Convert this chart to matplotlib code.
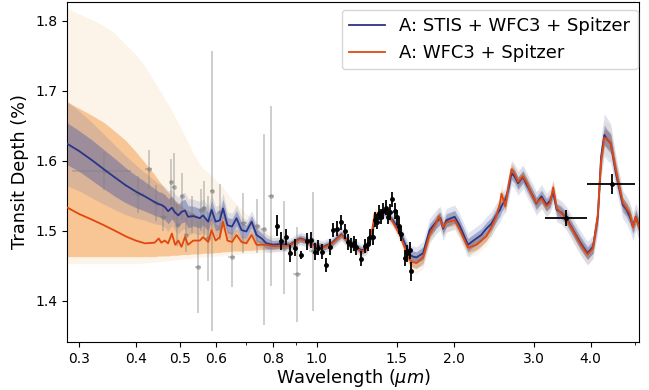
import matplotlib
matplotlib.use('Agg')
import matplotlib.pyplot as plt
import numpy as np
from matplotlib.ticker import FixedLocator, FixedFormatter, LogLocator, NullFormatter

# model grid (micron)
wl = [0.283, 0.300, 0.320, 0.340, 0.360, 0.380, 0.400, 0.419, 0.440, 0.449,
      0.455, 0.463, 0.471, 0.480, 0.488, 0.496, 0.504, 0.513, 0.521, 0.535,
      0.553, 0.562, 0.577, 0.587, 0.599, 0.612, 0.622, 0.636, 0.651, 0.666,
      0.683, 0.700, 0.719, 0.737, 0.756, 0.775, 0.800, 0.829, 0.872, 0.918,
      0.941, 0.981, 1.032, 1.077, 1.114, 1.133, 1.162, 1.202, 1.254, 1.286,
      1.319, 1.341, 1.376, 1.411, 1.435, 1.471, 1.522, 1.561, 1.601, 1.628,
      1.657, 1.713, 1.771, 1.833, 1.855, 1.870, 1.896, 1.928, 2.010, 2.060,
      2.150, 2.200, 2.245, 2.300, 2.360, 2.420, 2.480, 2.530, 2.547, 2.600,
      2.640, 2.680, 2.720, 2.770, 2.840, 2.900, 2.940, 2.990, 3.040, 3.120,
      3.200, 3.260, 3.310, 3.370, 3.450, 3.540, 3.660, 3.790, 3.880, 3.940,
      4.050, 4.150, 4.220, 4.290, 4.360, 4.430, 4.550, 4.710, 4.800, 4.880,
      4.960, 5.030, 5.120]

# retrieval A: STIS + WFC3 + Spitzer (median model, %)
model_all = [1.624, 1.614, 1.601, 1.588, 1.576, 1.565, 1.556, 1.549, 1.541, 1.538,
             1.537, 1.534, 1.528, 1.533, 1.526, 1.522, 1.527, 1.529, 1.520, 1.521,
             1.518, 1.522, 1.513, 1.530, 1.513, 1.515, 1.532, 1.508, 1.506, 1.518,
             1.501, 1.499, 1.513, 1.494, 1.489, 1.482, 1.480, 1.481, 1.480, 1.489,
             1.487, 1.480, 1.477, 1.482, 1.491, 1.495, 1.487, 1.480, 1.472, 1.475,
             1.494, 1.515, 1.522, 1.527, 1.522, 1.515, 1.499, 1.482, 1.466, 1.463,
             1.462, 1.468, 1.501, 1.513, 1.516, 1.518, 1.503, 1.515, 1.520, 1.508,
             1.480, 1.485, 1.489, 1.494, 1.503, 1.510, 1.522, 1.530, 1.535, 1.545,
             1.560, 1.582, 1.578, 1.568, 1.577, 1.565, 1.558, 1.549, 1.539, 1.549,
             1.537, 1.543, 1.555, 1.530, 1.526, 1.518, 1.501, 1.484, 1.474, 1.468,
             1.477, 1.520, 1.606, 1.637, 1.630, 1.625, 1.582, 1.537, 1.530, 1.520,
             1.506, 1.520, 1.506]

all_err1 = [0.030, 0.029, 0.029, 0.028, 0.027, 0.025, 0.023, 0.021, 0.019, 0.018,
            0.018, 0.018, 0.018, 0.016, 0.016, 0.016, 0.016, 0.016, 0.016, 0.014,
            0.014, 0.014, 0.013, 0.013, 0.013, 0.013, 0.013, 0.011, 0.011, 0.011,
            0.011, 0.009, 0.009, 0.009, 0.008, 0.008, 0.006, 0.006, 0.005, 0.005,
            0.005, 0.005, 0.005, 0.005, 0.005, 0.005, 0.005, 0.005, 0.005, 0.005,
            0.005, 0.005, 0.005, 0.005, 0.005, 0.005, 0.006, 0.007, 0.007, 0.008,
            0.008, 0.009, 0.009, 0.009, 0.009, 0.009, 0.009, 0.009, 0.009, 0.009,
            0.009, 0.009, 0.009, 0.009, 0.009, 0.009, 0.009, 0.009, 0.009, 0.009,
            0.009, 0.009, 0.009, 0.009, 0.009, 0.009, 0.009, 0.009, 0.009, 0.009,
            0.009, 0.009, 0.009, 0.009, 0.009, 0.009, 0.009, 0.009, 0.009, 0.009,
            0.009, 0.012, 0.014, 0.014, 0.014, 0.014, 0.013, 0.010, 0.010, 0.010,
            0.010, 0.010, 0.010]

all_err2 = [0.060, 0.057, 0.054, 0.050, 0.046, 0.042, 0.038, 0.034, 0.031, 0.029,
            0.029, 0.029, 0.029, 0.026, 0.026, 0.026, 0.026, 0.026, 0.026, 0.024,
            0.024, 0.024, 0.022, 0.022, 0.022, 0.022, 0.022, 0.019, 0.019, 0.019,
            0.019, 0.016, 0.016, 0.016, 0.013, 0.013, 0.010, 0.010, 0.009, 0.009,
            0.009, 0.009, 0.009, 0.009, 0.009, 0.009, 0.009, 0.009, 0.009, 0.009,
            0.009, 0.009, 0.009, 0.009, 0.009, 0.009, 0.011, 0.013, 0.014, 0.015,
            0.015, 0.017, 0.017, 0.017, 0.017, 0.017, 0.017, 0.017, 0.017, 0.017,
            0.017, 0.017, 0.017, 0.017, 0.017, 0.017, 0.017, 0.017, 0.017, 0.017,
            0.017, 0.017, 0.017, 0.017, 0.017, 0.017, 0.017, 0.017, 0.017, 0.017,
            0.017, 0.017, 0.017, 0.017, 0.017, 0.017, 0.017, 0.017, 0.017, 0.017,
            0.017, 0.022, 0.028, 0.030, 0.030, 0.028, 0.024, 0.020, 0.020, 0.020,
            0.020, 0.020, 0.020]

# retrieval A: WFC3 + Spitzer only
model_ir = [1.533, 1.524, 1.516, 1.508, 1.500, 1.492, 1.486, 1.482, 1.483, 1.489,
            1.483, 1.486, 1.482, 1.496, 1.480, 1.486, 1.477, 1.491, 1.480, 1.486,
            1.486, 1.491, 1.484, 1.501, 1.486, 1.491, 1.513, 1.486, 1.484, 1.494,
            1.484, 1.482, 1.494, 1.480, 1.480, 1.480, 1.478, 1.478, 1.479, 1.488,
            1.486, 1.479, 1.476, 1.481, 1.490, 1.494, 1.487, 1.479, 1.470, 1.474,
            1.495, 1.525, 1.520, 1.530, 1.524, 1.512, 1.495, 1.476, 1.458, 1.455,
            1.454, 1.462, 1.495, 1.512, 1.521, 1.515, 1.505, 1.512, 1.515, 1.502,
            1.476, 1.478, 1.480, 1.486, 1.492, 1.505, 1.520, 1.540, 1.553, 1.535,
            1.565, 1.588, 1.582, 1.570, 1.578, 1.568, 1.558, 1.548, 1.540, 1.546,
            1.535, 1.540, 1.562, 1.532, 1.525, 1.517, 1.500, 1.482, 1.472, 1.466,
            1.475, 1.522, 1.600, 1.633, 1.631, 1.625, 1.586, 1.540, 1.532, 1.525,
            1.505, 1.520, 1.504]

ir_up1 = [0.151, 0.151, 0.149, 0.147, 0.142, 0.137, 0.127, 0.115, 0.097, 0.083,
          0.084, 0.074, 0.073, 0.053, 0.064, 0.054, 0.059, 0.040, 0.049, 0.039,
          0.034, 0.027, 0.032, 0.018, 0.024, 0.016, 0.012, 0.014, 0.013, 0.010,
          0.008, 0.008, 0.008, 0.007, 0.006, 0.005, 0.005, 0.005, 0.004, 0.004,
          0.004, 0.004, 0.004, 0.004, 0.004, 0.004, 0.004, 0.004, 0.004, 0.004,
          0.004, 0.004, 0.004, 0.004, 0.004, 0.004, 0.006, 0.007, 0.008, 0.008,
          0.008, 0.008, 0.007, 0.007, 0.007, 0.007, 0.007, 0.007, 0.007, 0.007,
          0.007, 0.007, 0.007, 0.007, 0.007, 0.007, 0.007, 0.007, 0.007, 0.007,
          0.007, 0.007, 0.007, 0.007, 0.007, 0.007, 0.007, 0.007, 0.007, 0.007,
          0.007, 0.007, 0.007, 0.007, 0.007, 0.007, 0.007, 0.007, 0.007, 0.007,
          0.007, 0.010, 0.012, 0.012, 0.012, 0.012, 0.011, 0.008, 0.008, 0.008,
          0.008, 0.008, 0.008]

ir_dn1 = [0.070, 0.061, 0.053, 0.045, 0.037, 0.029, 0.023, 0.019, 0.020, 0.025,
          0.019, 0.022, 0.018, 0.031, 0.015, 0.021, 0.011, 0.025, 0.014, 0.019,
          0.019, 0.023, 0.016, 0.033, 0.017, 0.022, 0.043, 0.016, 0.013, 0.023,
          0.013, 0.010, 0.022, 0.007, 0.007, 0.006, 0.005, 0.004, 0.004, 0.004,
          0.004, 0.004, 0.004, 0.004, 0.004, 0.004, 0.004, 0.004, 0.004, 0.004,
          0.004, 0.004, 0.004, 0.004, 0.004, 0.004, 0.006, 0.007, 0.008, 0.008,
          0.008, 0.008, 0.007, 0.007, 0.007, 0.007, 0.007, 0.007, 0.007, 0.007,
          0.007, 0.007, 0.007, 0.007, 0.007, 0.007, 0.007, 0.007, 0.007, 0.007,
          0.007, 0.007, 0.007, 0.007, 0.007, 0.007, 0.007, 0.007, 0.007, 0.007,
          0.007, 0.007, 0.007, 0.007, 0.007, 0.007, 0.007, 0.007, 0.007, 0.007,
          0.007, 0.010, 0.012, 0.012, 0.012, 0.012, 0.011, 0.008, 0.008, 0.008,
          0.008, 0.008, 0.008]

ir_up2 = [0.285, 0.286, 0.286, 0.285, 0.282, 0.274, 0.266, 0.253, 0.230, 0.214,
          0.214, 0.203, 0.199, 0.175, 0.182, 0.168, 0.168, 0.144, 0.146, 0.125,
          0.109, 0.098, 0.099, 0.079, 0.086, 0.075, 0.049, 0.067, 0.061, 0.044,
          0.047, 0.042, 0.025, 0.032, 0.026, 0.021, 0.016, 0.013, 0.008, 0.008,
          0.008, 0.008, 0.008, 0.008, 0.008, 0.008, 0.008, 0.008, 0.008, 0.008,
          0.008, 0.008, 0.008, 0.008, 0.008, 0.008, 0.012, 0.014, 0.016, 0.016,
          0.016, 0.016, 0.014, 0.014, 0.014, 0.014, 0.014, 0.014, 0.014, 0.014,
          0.014, 0.014, 0.014, 0.014, 0.014, 0.014, 0.014, 0.014, 0.014, 0.014,
          0.014, 0.014, 0.014, 0.014, 0.014, 0.014, 0.014, 0.014, 0.014, 0.014,
          0.014, 0.014, 0.014, 0.014, 0.014, 0.014, 0.014, 0.014, 0.014, 0.014,
          0.014, 0.020, 0.024, 0.024, 0.024, 0.024, 0.022, 0.016, 0.016, 0.016,
          0.016, 0.016, 0.016]

ir_dn2 = [0.080, 0.071, 0.063, 0.055, 0.047, 0.039, 0.033, 0.028, 0.028, 0.033,
          0.027, 0.029, 0.025, 0.038, 0.022, 0.027, 0.018, 0.031, 0.020, 0.025,
          0.024, 0.029, 0.021, 0.038, 0.022, 0.027, 0.048, 0.021, 0.018, 0.028,
          0.017, 0.014, 0.026, 0.012, 0.011, 0.010, 0.009, 0.008, 0.008, 0.008,
          0.008, 0.008, 0.008, 0.008, 0.008, 0.008, 0.008, 0.008, 0.008, 0.008,
          0.008, 0.008, 0.008, 0.008, 0.008, 0.008, 0.012, 0.014, 0.016, 0.016,
          0.016, 0.016, 0.014, 0.014, 0.014, 0.014, 0.014, 0.014, 0.014, 0.014,
          0.014, 0.014, 0.014, 0.014, 0.014, 0.014, 0.014, 0.014, 0.014, 0.014,
          0.014, 0.014, 0.014, 0.014, 0.014, 0.014, 0.014, 0.014, 0.014, 0.014,
          0.014, 0.014, 0.014, 0.014, 0.014, 0.014, 0.014, 0.014, 0.014, 0.014,
          0.014, 0.020, 0.024, 0.024, 0.024, 0.024, 0.022, 0.016, 0.016, 0.016,
          0.016, 0.016, 0.016]

# STIS data
stis_wl = [0.340, 0.404, 0.427, 0.443, 0.460, 0.479, 0.484, 0.493, 0.504, 0.515,
           0.532, 0.548, 0.556, 0.565, 0.577, 0.588, 0.614, 0.650, 0.689, 0.737,
           0.765, 0.792, 0.847, 0.905, 0.980]
stis_depth = [1.585, 1.552, 1.588, 1.540, 1.519, 1.570, 1.563, 1.508, 1.549, 1.494,
              1.523, 1.448, 1.530, 1.532, 1.489, 1.557, 1.527, 1.463, 1.511, 1.507,
              1.502, 1.550, 1.476, 1.438, 1.471]
stis_err = [0.027, 0.026, 0.028, 0.026, 0.019, 0.033, 0.048, 0.030, 0.033, 0.024,
            0.026, 0.065, 0.030, 0.039, 0.061, 0.200, 0.040, 0.043, 0.043, 0.039,
            0.136, 0.129, 0.066, 0.068, 0.085]
stis_bin = [0.050, 0.012, 0.008, 0.008, 0.008, 0.004, 0.004, 0.004, 0.005, 0.005,
            0.006, 0.007, 0.006, 0.006, 0.006, 0.006, 0.012, 0.012, 0.012, 0.012,
            0.010, 0.012, 0.012, 0.020, 0.020]

# WFC3 data
wfc3_wl = [0.818, 0.836, 0.855, 0.875, 0.896, 0.925, 0.952, 0.973, 0.990, 1.007,
           1.029, 1.050, 1.068, 1.086, 1.105, 1.133, 1.152, 1.172, 1.188, 1.206,
           1.222, 1.249, 1.275, 1.295, 1.312, 1.328, 1.341, 1.357, 1.372, 1.386,
           1.399, 1.418, 1.435, 1.450, 1.464, 1.484, 1.500, 1.516, 1.535, 1.561,
           1.579, 1.601, 1.614]
wfc3_depth = [1.507, 1.485, 1.491, 1.468, 1.476, 1.465, 1.485, 1.487, 1.470, 1.476,
              1.470, 1.451, 1.477, 1.501, 1.503, 1.512, 1.499, 1.484, 1.479, 1.482,
              1.477, 1.460, 1.478, 1.481, 1.491, 1.491, 1.516, 1.513, 1.526, 1.520,
              1.528, 1.533, 1.520, 1.527, 1.545, 1.528, 1.519, 1.507, 1.496, 1.461,
              1.468, 1.472, 1.442]
wfc3_err = [0.015, 0.013, 0.012, 0.012, 0.012, 0.006, 0.012, 0.011, 0.012, 0.011,
            0.011, 0.010, 0.011, 0.010, 0.011, 0.011, 0.011, 0.011, 0.011, 0.011,
            0.011, 0.011, 0.010, 0.010, 0.011, 0.011, 0.011, 0.011, 0.011, 0.011,
            0.011, 0.011, 0.011, 0.011, 0.011, 0.011, 0.011, 0.011, 0.011, 0.012,
            0.012, 0.012, 0.014]

# Spitzer data
spz_wl = [3.54, 4.46]
spz_depth = [1.518, 1.567]
spz_err = [0.011, 0.014]
spz_lo = [0.37, 0.54]
spz_hi = [0.38, 0.56]

xticks = [0.3, 0.4, 0.5, 0.6, 0.8, 1.0, 1.5, 2.0, 3.0, 4.0]
yticks = [1.4, 1.5, 1.6, 1.7, 1.8]

blue = '#2a3587'
orange = '#e2470c'

fig = plt.figure(figsize=(6.49, 3.9), dpi=100)
ax = fig.add_axes([0.103, 0.123, 0.882, 0.872])

w = np.array(wl)
m1 = np.array(model_all)
m2 = np.array(model_ir)

ax.fill_between(w, m2 - np.array(ir_dn2), m2 + np.array(ir_up2), color='#f2cf98', alpha=0.22, lw=0)
ax.fill_between(w, m2 - np.array(ir_dn1), m2 + np.array(ir_up1), color='#f7a862', alpha=0.62, lw=0)
ax.fill_between(w, m1 - np.array(all_err2), m1 + np.array(all_err2), color='#4a62ad', alpha=0.17, lw=0)
ax.fill_between(w, m1 - np.array(all_err1), m1 + np.array(all_err1), color='#3c4f9e', alpha=0.38, lw=0)

ax.errorbar(stis_wl, stis_depth, yerr=stis_err, xerr=stis_bin, fmt='o', ms=2.5,
            color='gray', alpha=0.45, elinewidth=1.2, capsize=0, zorder=3)

ax.plot(wl, model_all, color=blue, lw=1.3, label='A: STIS + WFC3 + Spitzer', zorder=4)
ax.plot(wl, model_ir, color=orange, lw=1.3, label='A: WFC3 + Spitzer', zorder=4)

ax.errorbar(wfc3_wl, wfc3_depth, yerr=wfc3_err, fmt='o', ms=2.5, color='black',
            elinewidth=1.3, capsize=0, zorder=5)
ax.errorbar(spz_wl, spz_depth, yerr=spz_err, xerr=[spz_lo, spz_hi], fmt='o', ms=2.5,
            color='black', elinewidth=1.3, capsize=0, zorder=5)

ax.set_xscale('log')
ax.set_xlim(0.282, 5.12)
ax.set_ylim(1.341, 1.827)
ax.xaxis.set_major_locator(FixedLocator(xticks))
ax.xaxis.set_major_formatter(FixedFormatter(['%.1f' % t for t in xticks]))
ax.xaxis.set_minor_locator(LogLocator(subs=np.arange(2, 10)))
ax.xaxis.set_minor_formatter(NullFormatter())
ax.set_yticks(yticks)
ax.tick_params(labelsize=10)

ax.set_xlabel(r'Wavelength ($\mu m$)', fontsize=12.8, labelpad=1)
ax.set_ylabel('Transit Depth (%)', fontsize=12.8)
ax.legend(loc='upper right', fontsize=13, bbox_to_anchor=(0.997, 0.977), borderaxespad=0)

fig.savefig('out.png', dpi=100)
